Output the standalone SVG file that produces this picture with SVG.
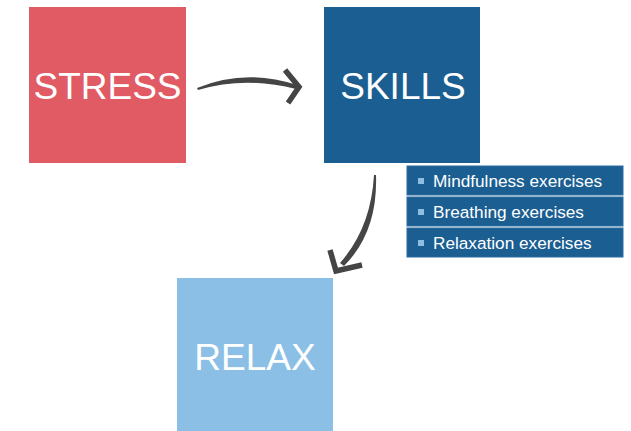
<svg xmlns="http://www.w3.org/2000/svg" width="631" height="431" viewBox="0 0 631 431">
  <style>
    .box-title { font-family: "Liberation Sans", Arial, sans-serif; font-size: 37px; fill: #ffffff; text-anchor: middle; }
    .item { fill: #1b5e92; stroke: #2d6d9f; stroke-width: 1; }
    .item-text { font-family: "Liberation Sans", Arial, sans-serif; font-size: 17.2px; fill: #ffffff; }
    .bullet { fill: #8fbde2; }
    .brush { fill: #454545; }
    .brush-head { fill: none; stroke: #454545; stroke-width: 5.5; stroke-linejoin: miter; stroke-linecap: butt; }
  </style>
  <rect width="631" height="431" fill="#ffffff"/>

  <g id="stress">
    <rect x="29" y="7" width="157" height="156" fill="#e05b63"/>
    <text class="box-title" x="107.5" y="99">STRESS</text>
  </g>

  <g id="skills">
    <rect x="324" y="7" width="156" height="156" fill="#1b5e92"/>
    <text class="box-title" x="403" y="99">SKILLS</text>
  </g>

  <g id="skills-list">
    <rect class="item" x="407" y="166" width="216" height="29"/>
    <rect class="bullet" x="418" y="178" width="6" height="6"/>
    <text class="item-text" x="433" y="187">Mindfulness exercises</text>
    <rect class="item" x="407" y="197" width="216" height="29"/>
    <rect class="bullet" x="418" y="209" width="6" height="6"/>
    <text class="item-text" x="433" y="218">Breathing exercises</text>
    <rect class="item" x="407" y="228" width="216" height="29"/>
    <rect class="bullet" x="418" y="240" width="6" height="6"/>
    <text class="item-text" x="433" y="249">Relaxation exercises</text>
  </g>

  <g id="relax">
    <rect x="177" y="278" width="156" height="153" fill="#8cbfe6"/>
    <text class="box-title" x="255" y="370">RELAX</text>
  </g>

  <g id="connectors">
    <!-- stress to skills: brush stroke curving right -->
    <path class="brush" d="M197,88 Q245,68 297,85 L296,89 Q245,76 198,90 Z"/>
    <path class="brush-head" d="M285,70 L299,87 L288,103"/>
    <!-- skills to relax: brush stroke curving down-left -->
    <path class="brush" d="M376,175 Q378,232 344,266 L340,263 Q371,228 374,175 Z"/>
    <path class="brush-head" d="M330,250 L336,271 L362,265"/>
  </g>
</svg>
